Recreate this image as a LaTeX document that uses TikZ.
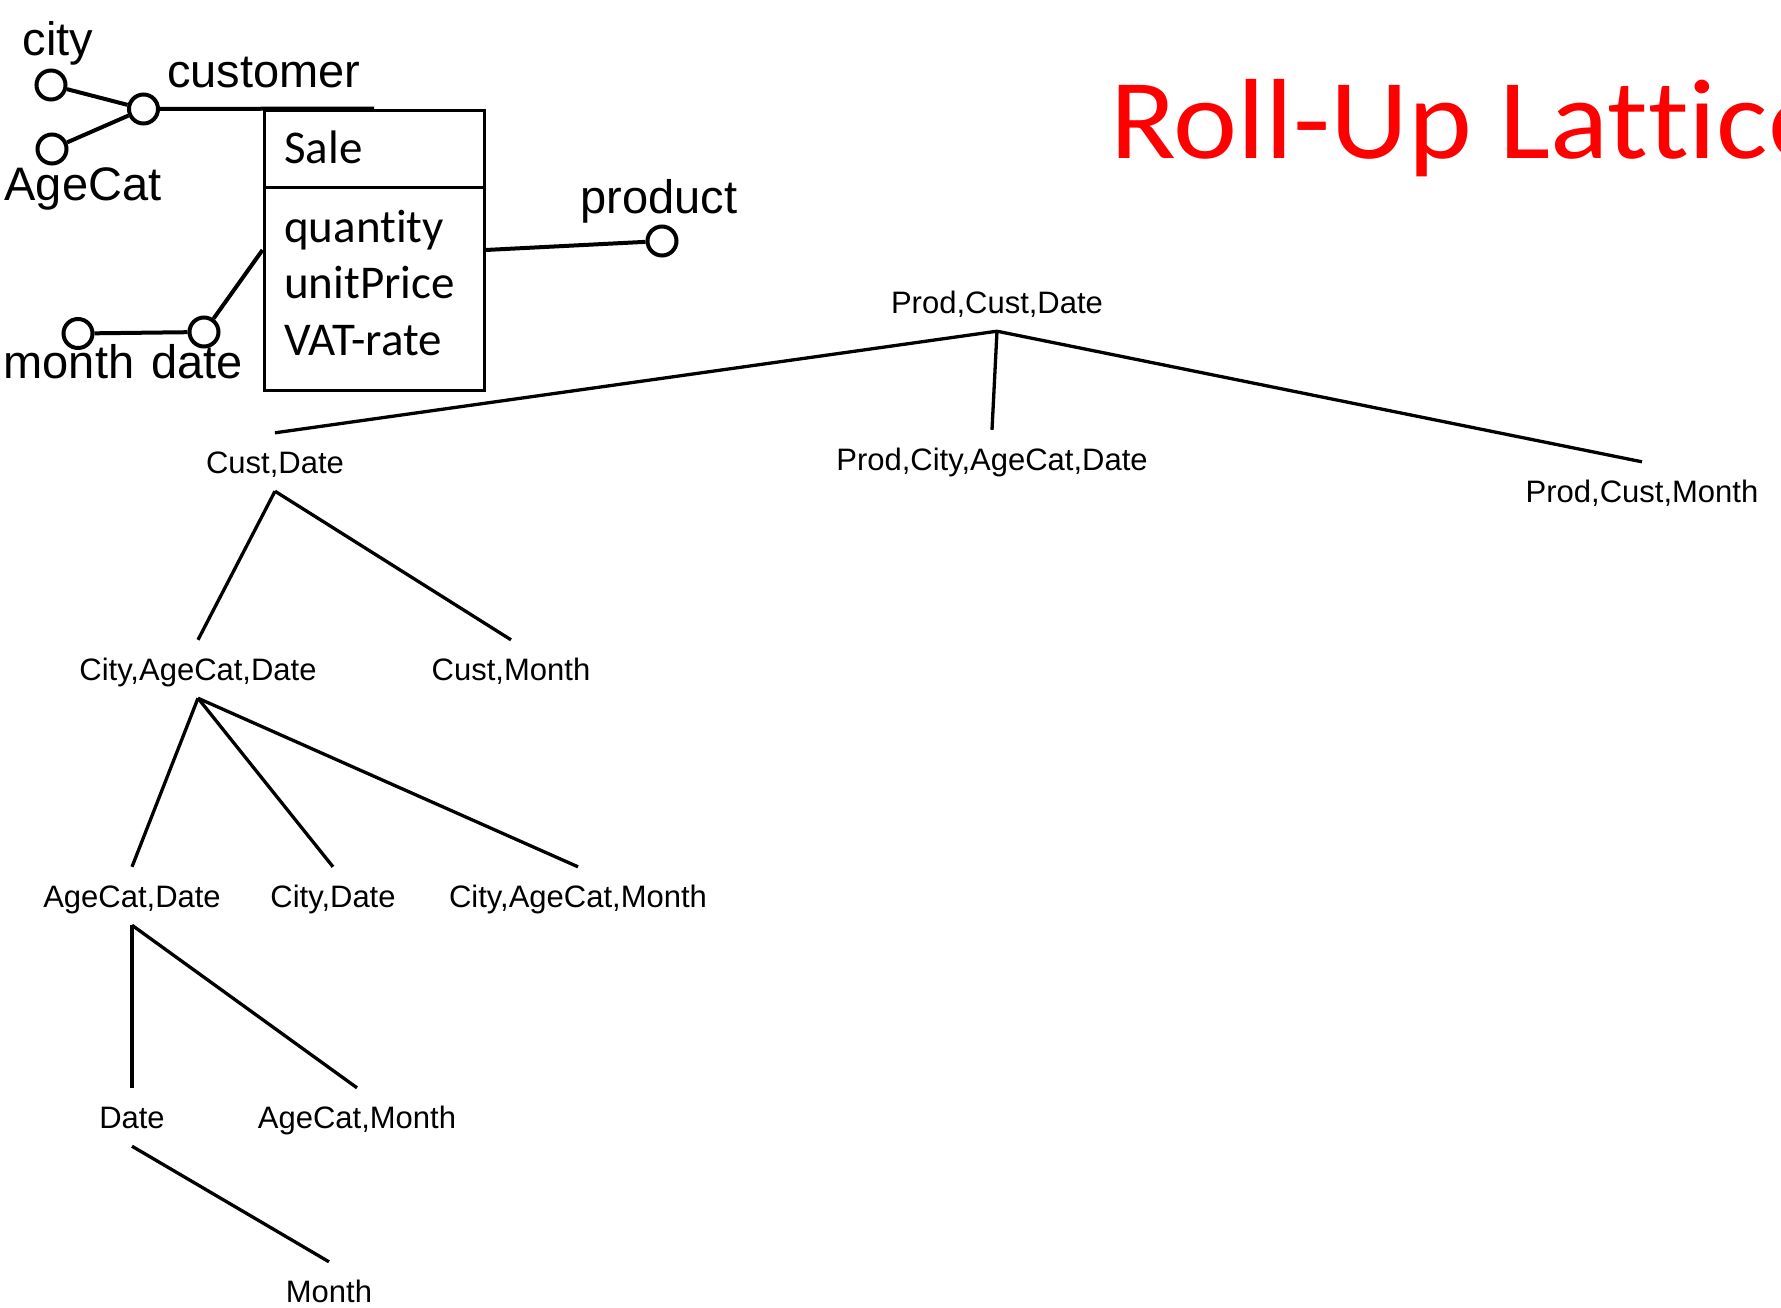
\documentclass[tikz,border=0pt]{standalone}
\usepackage{graphicx}
\usepackage{fontspec}
\setmainfont{Liberation Sans}
\newfontfamily\calib[Ligatures={NoCommon,NoRare,NoContextual}]{Carlito}
\newcommand\nolig{\kern0pt{}}
\definecolor{titlered}{RGB}{255,0,0}
\begin{document}
\begin{tikzpicture}[x=1pt,y=-1pt,
  erlabel/.style={inner sep=0pt, anchor=base, font=\fontsize{47}{56}\selectfont},
  boxtext/.style={inner sep=0pt, anchor=base west, font=\calib\fontsize{47}{56}\selectfont},
  attr/.style={circle, draw, line width=4pt, minimum size=29pt, inner sep=0pt},
  erline/.style={line width=4pt},
  lat/.style={inner xsep=0pt, inner ysep=18pt, text height=22pt, text depth=0pt, anchor=base, font=\fontsize{31}{37}\selectfont},
  latline/.style={line width=3.3pt}]
\useasboundingbox (0,0) rectangle (1781,1307);
\clip (0,0) rectangle (1781,1307);

% ---- ER fragment ----
\node[draw, line width=3pt, minimum width=220pt, minimum height=280pt, inner sep=0pt] (sale) at (374,250) {};
\coordinate (divL) at (264,187);
\coordinate (divR) at (484,187);
\draw[line width=3pt] (divL) -- (divR);
\node[boxtext] (tsale) at (284,163) {Sale};
\node[boxtext] (tq) at (284,242) {quant\nolig ity};
\node[boxtext] (tu) at (284,298) {unitPrice};
\node[boxtext] (tv) at (284,355) {VAT-rate};

\node[attr] (city) at (51,85) {};
\node[attr] (cust) at (143.5,109) {};
\node[attr] (agecat) at (52,149) {};
\node[attr] (month) at (78,333.5) {};
\node[attr] (date) at (204,332) {};
\node[attr] (prod) at (662,241) {};

\node[erlabel] (lcity) at (58,55) {city};
\node[erlabel] (lcust) at (264,87) {customer};
\node[erlabel] (lage) at (83,200) {AgeCat};
\node[erlabel] (lmonth) at (69,378) {month};
\node[erlabel] (ldate) at (197,378) {date};
\node[erlabel] (lprod) at (659,213) {product};

\draw[erline] (city) -- (cust);
\draw[erline] (agecat) -- (cust);
\draw[erline] (cust) -- (sale.north);
\draw[erline] (month) -- (date);
\draw[erline] (date) -- (sale.west);
\draw[erline] (sale.east) -- (prod);

% ---- title ----
\node[inner sep=0pt, anchor=base west, text=titlered, font=\calib\fontsize{114}{130}\selectfont] (title) at (1110,158) {\scalebox{1.065}[1]{Roll-Up Lat\nolig t\nolig ice}};

% ---- lattice ----
\node[lat] (pcd) at (997,313) {Prod,Cust,Date};
\node[lat] (pcacd) at (992,470) {Prod,City,AgeCat,Date};
\node[lat] (pcm) at (1642,502) {Prod,Cust,Month};
\node[lat] (cd) at (275,473) {Cust,Date};
\node[lat] (cacd) at (198,680) {City,AgeCat,Date};
\node[lat] (cm) at (511,680) {Cust,Month};
\node[lat] (acd) at (132,907) {AgeCat,Date};
\node[lat] (ctd) at (333,907) {City,Date};
\node[lat] (cacm) at (578,907) {City,AgeCat,Month};
\node[lat] (dt) at (132,1128) {Date};
\node[lat] (acm) at (357,1128) {AgeCat,Month};
\node[lat] (mo) at (329,1302) {Month};

\draw[latline] (pcd.south) -- (cd.north);
\draw[latline] (pcd.south) -- (pcacd.north);
\draw[latline] (pcd.south) -- (pcm.north);
\draw[latline] (cd.south) -- (cacd.north);
\draw[latline] (cd.south) -- (cm.north);
\draw[latline] (cacd.south) -- (acd.north);
\draw[latline] (cacd.south) -- (ctd.north);
\draw[latline] (cacd.south) -- (cacm.north);
\draw[latline] (acd.south) -- (dt.north);
\draw[latline] (acd.south) -- (acm.north);
\draw[latline] (dt.south) -- (mo.north);
\end{tikzpicture}
\end{document}
